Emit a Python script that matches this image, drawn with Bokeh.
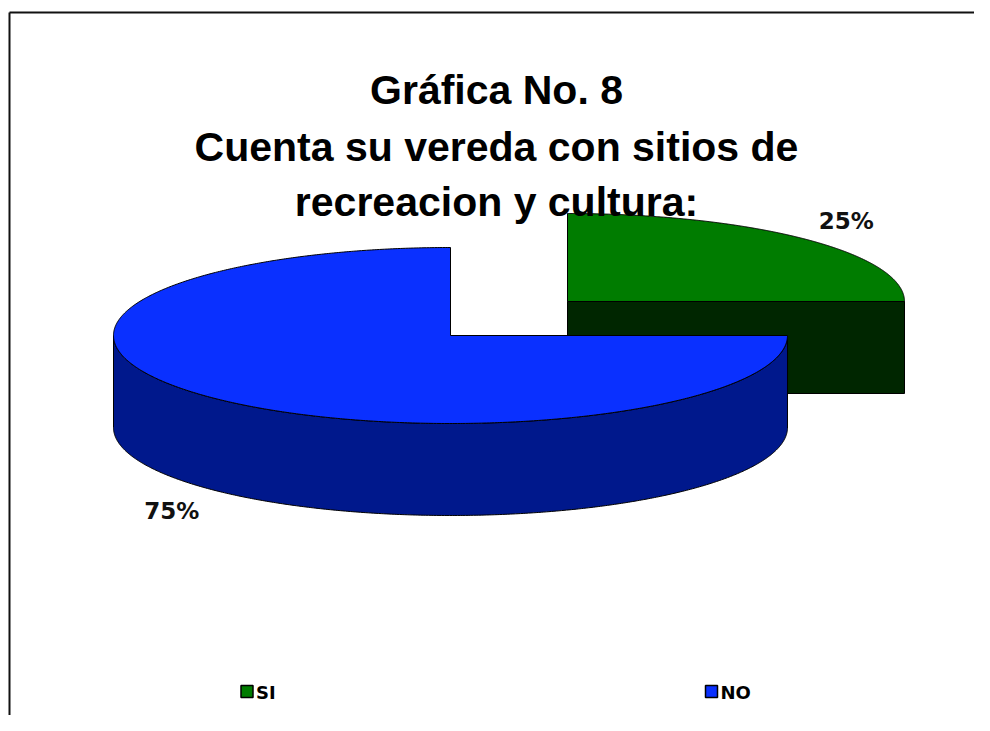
import numpy as np
from bokeh.plotting import figure
from bokeh.models import Range1d
from bokeh.embed import file_html
from bokeh.resources import INLINE
from bokeh.core.properties import value

# ---- data ----
categories = ["SI", "NO"]
values = [25, 75]
pct_labels = ["25%", "75%"]
title_lines = ["Gráfica No. 8", "Cuenta su vereda con sitios de", "recreacion y cultura:"]

# ---- styles / layout ----
top_colors = ["#007c00", "#0a30ff"]
cut_colors = ["#002600", "#00188c"]
side_colors = ["#003000", "#00188c"]
explode_px = [(117, -34), (0, 0)]
CX, CY = 450, 335
RX, RY = 337, 88
DEPTH = 92

W, H = 974, 715
p = figure(width=W, height=H, x_range=Range1d(0, W), y_range=Range1d(H, 0),
           output_backend="svg", toolbar_location=None, min_border=0)
p.axis.visible = False
p.grid.visible = False
p.outline_line_color = None
p.background_fill_color = "white"
p.border_fill_color = "white"

# frame (top and left edges as in the reference)
p.segment(x0=[9, 9], y0=[12, 12], x1=[W, 9], y1=[12, H], line_color="#111111", line_width=2)

total = float(sum(values))
angles = [90.0]
for v in values:
    angles.append(angles[-1] - 360.0 * v / total)


def ell(cx, cy, a, dz=0.0):
    t = np.radians(a)
    return cx + RX * np.cos(t), cy - RY * np.sin(t) + dz


for i, cat in enumerate(categories):
    a_start, a_end = angles[i], angles[i + 1]   # clockwise: a_start > a_end
    cx, cy = CX + explode_px[i][0], CY + explode_px[i][1]
    lo, hi = a_end, a_start
    # radial faces
    for phi, sign in ((lo, 1), (hi, -1)):
        c = np.cos(np.radians(phi))
        if sign * c > 1e-6:
            ex, ey = ell(cx, cy, phi)
            xs = [cx, ex, ex, cx]
            ys = [cy, ey, ey + DEPTH, cy + DEPTH]
            p.patch(xs, ys, fill_color=cut_colors[i], line_color="black", line_width=1)
    # outer side: front half (sin < 0)
    tt = np.linspace(lo, hi, 600)
    front = np.sin(np.radians(tt)) < 0
    if front.any():
        seg = tt[front]
        xs_t, ys_t = ell(cx, cy, seg)
        xs_b, ys_b = ell(cx, cy, seg[::-1], DEPTH)
        p.patch(np.concatenate([xs_t, xs_b]), np.concatenate([ys_t, ys_b]),
                fill_color=side_colors[i], line_color="black", line_width=1)
    # top face
    arc_x, arc_y = ell(cx, cy, np.linspace(a_start, a_end, 600))
    p.patch(np.concatenate([[cx], arc_x, [cx]]), np.concatenate([[cy], arc_y, [cy]]),
            fill_color=top_colors[i], line_color="black", line_width=1)
    # percentage label
    mid = np.radians((a_start + a_end) / 2.0)
    lx = cx + 1.17 * RX * np.cos(mid)
    ly = cy - 1.17 * RY * np.sin(mid)
    ly += (DEPTH + 11) if np.sin(mid) < 0 else -8
    p.text(x=[lx], y=[ly], text=[pct_labels[i]], text_align="center", text_baseline="middle",
           text_font=value("DejaVu Sans"), text_font_style="bold", text_font_size="23px",
           text_color="#111111")

# title
p.text(x=[496] * 3, y=[89, 146, 201], text=title_lines, text_align="center",
       text_baseline="alphabetic", text_font=value("Liberation Sans"), text_font_style="bold",
       text_font_size="41px", text_color="black")

# legend
leg_x = [246.5, 711]
p.rect(x=leg_x, y=[691, 691], width=12, height=12, fill_color=top_colors,
       line_color="black", line_width=1.5)
p.text(x=[x + 9 for x in leg_x], y=[692, 692], text=categories, text_align="left",
       text_baseline="middle", text_font=value("DejaVu Sans"), text_font_style="bold",
       text_font_size="18px", text_color="black")

open("out.html", "w").write(file_html(p, INLINE))
